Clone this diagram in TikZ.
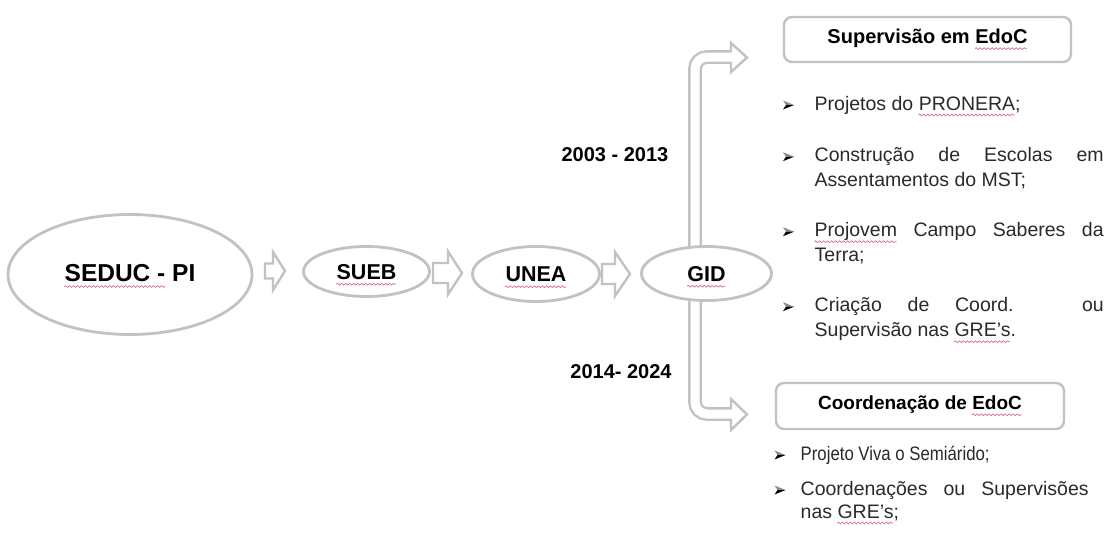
\documentclass[tikz,border=0pt]{standalone}
\usepackage{fontspec}
\setmainfont{Liberation Sans}
\usetikzlibrary{shapes.geometric,calc,decorations.pathmorphing}
\definecolor{lgray}{HTML}{C2C2C2}
\definecolor{txtgray}{HTML}{2A2A2A}
\definecolor{squig}{HTML}{D9707F}
\newsavebox\wavebox
\newlength\wavelen
\newcommand\redwave[1]{\sbox\wavebox{#1}\setlength\wavelen{\wd\wavebox}%
  \usebox\wavebox\llap{\raisebox{-5pt}{\tikz[baseline=0pt,x=1pt,y=1pt]
    \draw[squig,line width=0.7pt,sharp corners,solid,decorate,decoration={snake,amplitude=0.9pt,segment length=4pt}]
      (0,0) -- (\the\wavelen,0);}}}
\tikzset{
  oval/.style={ellipse, draw=lgray, line width=2.8pt, fill=white, inner sep=0pt,
    font=\bfseries\fontsize{21.5}{26}\selectfont, text height=15.5pt, text depth=0pt},
  arrowline/.style={draw=lgray, line width=2.4pt, fill=white, line join=miter},
  shaft/.style={draw=lgray, line width=2.4pt, double=white, double distance=9pt, rounded corners=12pt},
  headline/.style={draw=lgray, line width=2.4pt, line join=miter, line cap=round},
  titlebox/.style={draw=lgray, line width=2.4pt, rounded corners=8pt, fill=white, inner sep=0pt,
    font=\bfseries\fontsize{20}{24}\selectfont},
  yearlbl/.style={inner sep=0pt, font=\bfseries\fontsize{20}{24}\selectfont, text height=14.3pt, text depth=0pt},
  itemtxt/.style={anchor=base west, inner sep=0pt, font=\fontsize{19.5}{25}\selectfont, text=txtgray, align=left},
  itemtxtb/.style={itemtxt, font=\fontsize{19.5}{23}\selectfont},
  bul/.pic={\fill[black!45] (-5.5,-4.5) -- (5.5,0) -- (-2.5,0) -- cycle;
            \fill[black] (-5.5,4.5) -- (5.5,0) -- (-2.5,0) -- cycle;}
}
% #1 start coordinate, #2 length, #3 head length, #4 half shaft, #5 half head
\newcommand\blockarrow[5]{%
  \draw[arrowline, shift={(#1)}] (0,-#4) -- ({#2-#3},-#4) -- ({#2-#3},-#5) -- (#2,0)
    -- ({#2-#3},#5) -- ({#2-#3},#4) -- (0,#4) -- cycle;}
\begin{document}
\begin{tikzpicture}[x=1pt,y=-1pt]
\useasboundingbox (0,0) rectangle (1106,546);
\fill[white] (0,0) rectangle (1106,546);

% ---- bent arrows from GID (drawn under the GID ellipse)
\coordinate (gidc) at (706.5,273.5);
\coordinate (hb1) at (731,57);
\coordinate (hb2) at (731,414);
\draw[shaft] ($(gidc)+(-11.5,0)$) |- (hb1);
\draw[shaft] ($(gidc)+(-11.5,0)$) |- (hb2);
\fill[white] (731,43) -- (747,57.5) -- (731,72) -- cycle;
\draw[headline] (731,51.3) -- (731,43) -- (747,57.5) -- (731,72) -- (731,62.7);
\fill[white] (731,399) -- (747,414.5) -- (731,430) -- cycle;
\draw[headline] (731,408.3) -- (731,399) -- (747,414.5) -- (731,430) -- (731,419.7);

% ---- chain of ellipses
\node[oval, minimum width=244pt, minimum height=120pt, font=\bfseries\fontsize{24.5}{28}\selectfont,
      text height=18pt, text depth=4pt] (seduc) at (130,274.5) {\redwave{SEDUC -} PI};
\node[oval, minimum width=126pt, minimum height=50pt] (sueb) at (366.5,271.5) {\redwave{SUEB}};
\node[oval, minimum width=127pt, minimum height=55pt] (unea) at (536,274) {\redwave{UNEA}};
\node[oval, minimum width=130pt, minimum height=54pt] (gid) at (gidc) {\redwave{GID}};

% ---- hollow block arrows between the ellipses
\coordinate (a1) at (265,271);
\coordinate (a2) at (433,273);
\coordinate (a3) at (602,274);
\blockarrow{a1}{20}{12}{7.5}{19}
\blockarrow{a2}{29}{14}{10}{21.5}
\blockarrow{a3}{28}{15}{10}{22}

% ---- year labels
\node[yearlbl] (y1) at (615,154.5) {2003 - 2013};
\node[yearlbl] (y2) at (621,371.5) {2014- 2024};

% ---- title boxes
\node[titlebox, minimum width=287pt, minimum height=45pt] (sup) at (927.5,39.5) {Supervisão em \redwave{EdoC}};
\node[titlebox, minimum width=288pt, minimum height=46pt, font=\bfseries\fontsize{19}{23}\selectfont]
      (coord) at (920,406) {Coordenação de \redwave{EdoC}};

% ---- upper list (multi-line nodes are placed at the baseline of their last line)
\pic at (788.5,105) {bul};
\node[itemtxt] (u1) at (814.5,110) {Projetos do \redwave{PRONERA};};
\pic at (788.5,156.7) {bul};
\node[itemtxt] (u2) at (814.5,186.7) {\makebox[289pt][s]{Construção de Escolas em}\\Assentamentos do MST;};
\pic at (788.5,231.7) {bul};
\node[itemtxt] (u3) at (814.5,261.7) {\makebox[289pt][s]{\redwave{Projovem} Campo Saberes da}\\Terra;};
\pic at (788.5,306.7) {bul};
\node[itemtxt] (u4) at (814.5,336.7) {\makebox[289pt][s]{Criação de Coord. ou}\\Supervisão nas \redwave{GRE’s}.};

% ---- lower list
\pic at (780,455) {bul};
\node[itemtxtb] (l1) at (800.5,460) {\scalebox{0.86}[1]{Projeto Viva o Semiárido;}};
\pic at (780,490) {bul};
\node[itemtxtb] (l2) at (800.5,518) {\makebox[288pt][s]{Coordenações ou Supervisões}\\nas \redwave{GRE’s};};
\end{tikzpicture}
\end{document}
